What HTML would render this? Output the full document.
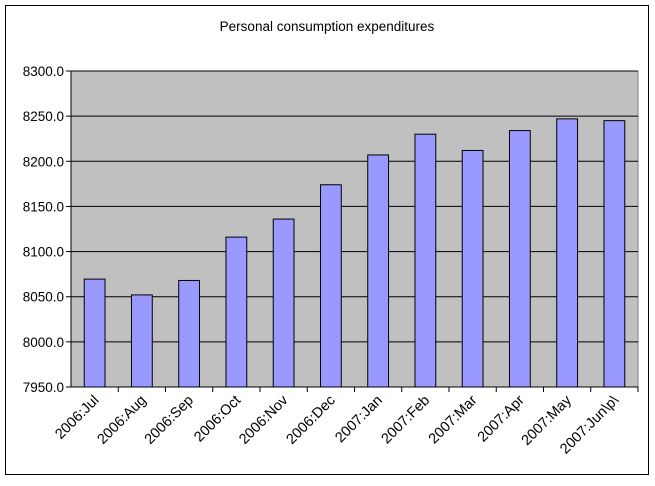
<!DOCTYPE html>
<html><head><meta charset="utf-8"><style>
body{margin:0;background:#fff;}
svg text{font-family:"Liberation Sans",Arial,sans-serif;}
</style></head><body>
<svg width="655" height="481" xmlns="http://www.w3.org/2000/svg">
<rect x="5.5" y="5.5" width="643" height="469" fill="#fff" stroke="#000" stroke-width="1"/>
<text x="327" y="31" font-size="13.5" text-anchor="middle">Personal consumption expenditures</text>
<g id="plot"></g>
</svg>
<script>
const categories=["2006:Jul","2006:Aug","2006:Sep","2006:Oct","2006:Nov","2006:Dec","2007:Jan","2007:Feb","2007:Mar","2007:Apr","2007:May","2007:Jun\\p\\"];
const values=[8069.5,8052,8068,8116,8136,8174,8207,8230,8212,8234,8247,8245];
const ticks=[7950,8000,8050,8100,8150,8200,8250,8300];
const tickLabels=["7950.0","8000.0","8050.0","8100.0","8150.0","8200.0","8250.0","8300.0"];
const NS="http://www.w3.org/2000/svg";
const L=71,R=638,T=71,B=387,ymin=7950,ymax=8300;
const y=v=>B-(v-ymin)/(ymax-ymin)*(B-T);
const bw=(R-L)/categories.length;
const x=i=>L+bw*i;
const g=document.getElementById('plot');
function mk(t,a){const e=document.createElementNS(NS,t);for(const k in a)e.setAttribute(k,a[k]);g.appendChild(e);return e;}
let e=mk('rect',{x:L,y:T,width:R-L,height:B-T,fill:'#c0c0c0',stroke:'#808080'});


ticks.forEach((t,i)=>{
 let gl=mk('line',{x1:L,x2:R,y1:y(t),y2:y(t),stroke:'#000','stroke-width':1});
 
 
 let tk=mk('line',{x1:L-5,x2:L,y1:y(t),y2:y(t),stroke:'#000'});
 
 
 let tx=mk('text',{x:L-7,y:y(t)+5,'font-size':13.5,'text-anchor':'end'});
 tx.textContent=tickLabels[i];
 
 
});
let ax=mk('line',{x1:L,x2:L,y1:T,y2:B,stroke:'#000'});


let xa=mk('line',{x1:L,x2:R,y1:B,y2:B,stroke:'#000'});


categories.forEach((c,i)=>{
 const cx=x(i)+bw/2, w=bw*0.44;
 let b=mk('rect',{x:cx-w/2,y:y(values[i]),width:w,height:B-y(values[i]),fill:'#9999ff',stroke:'#000','stroke-width':1});
 
 
 let tk=mk('line',{x1:x(i+1),x2:x(i+1),y1:B,y2:B+5,stroke:'#000'});
 
 
 let tx=mk('text',{x:cx+5,y:B+14,'font-size':14.5,'text-anchor':'end',transform:`rotate(-45 ${cx+5} ${B+14})`});
 tx.textContent=c;
 
 
});
</script>
</body></html>
